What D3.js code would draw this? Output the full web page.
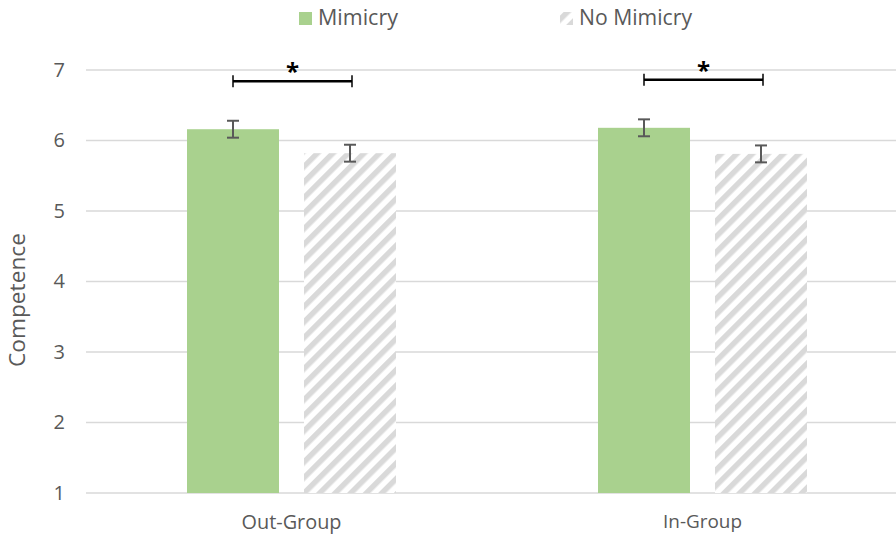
<!DOCTYPE html>
<html>
<head>
<meta charset="utf-8">
<script src="https://cdn.jsdelivr.net/npm/d3@7"></script>
<style>
  html, body { margin: 0; padding: 0; background: #fff; }
  svg { display: block; font-family: "Open Sans", sans-serif; }
</style>
</head>
<body>
<svg id="chart" width="896" height="539"></svg>
<script>
// Competence ratings by group and mimicry condition
const categories = ["Out-Group", "In-Group"];
const seriesNames = ["Mimicry", "No Mimicry"];
const mimicryMeans = [6.16, 6.18];
const noMimicryMeans = [5.82, 5.81];
const mimicryErrors = [0.12, 0.12];
const noMimicryErrors = [0.12, 0.12];
const yTicks = [1, 2, 3, 4, 5, 6, 7];
const significance = [
  { category: "Out-Group", y: 6.84, label: "*" },
  { category: "In-Group", y: 6.86, label: "*" }
];

const svg = d3.select("#chart");
const margin = { left: 86, right: -12, top: 70, bottom: 46 };
const W = 896, H = 539;
const textColor = "#595959";

const x = d3.scaleBand().domain(categories).range([margin.left, W - margin.right]).paddingInner(0).paddingOuter(0);
const y = d3.scaleLinear().domain([1, 7]).range([H - margin.bottom, margin.top]);

const barW = 92, gap = 25;
const offsets = [-(gap / 2 + barW), gap / 2];

// scale a text element's font size so its rendered width equals w
function fitWidth(sel, w) {
  sel.each(function () {
    const fs = parseFloat(this.getAttribute("font-size"));
    const cur = this.getComputedTextLength();
    if (cur > 0) this.setAttribute("font-size", (fs * w / cur).toFixed(2));
  });
}

// hatch pattern for the no-mimicry bars
const defs = svg.append("defs");
const pat = defs.append("pattern")
  .attr("id", "hatch")
  .attr("patternUnits", "userSpaceOnUse")
  .attr("width", 11).attr("height", 11)
  .attr("patternTransform", "rotate(45)");
pat.append("rect").attr("width", 11).attr("height", 11).attr("fill", "#fff");
pat.append("rect").attr("x", 0).attr("y", 0).attr("width", 5.5).attr("height", 11).attr("fill", "#d9d9d9");

// gridlines
svg.append("g").selectAll("line").data(yTicks).join("line")
  .attr("x1", margin.left).attr("x2", W)
  .attr("y1", d => y(d)).attr("y2", d => y(d))
  .attr("stroke", "#d9d9d9").attr("stroke-width", 1.3);

// y axis tick labels
const yAxis = d3.axisLeft(y).tickValues(yTicks).tickSize(0).tickPadding(0).tickFormat(d3.format("d"));
const yg = svg.append("g").attr("transform", `translate(${margin.left - 21},0)`).call(yAxis);
yg.select(".domain").remove();
yg.selectAll("text").attr("font-size", 20).attr("fill", textColor).attr("font-family", "'Open Sans', sans-serif");

// y axis title
const yTitle = svg.append("text")
  .attr("transform", `translate(25,300) rotate(-90)`)
  .attr("text-anchor", "middle")
  .attr("font-size", 19).attr("fill", textColor)
  .text("Competence");
fitWidth(yTitle, 134);

// x axis labels
const xAxis = d3.axisBottom(x).tickSize(0).tickPadding(0);
const xg = svg.append("g").attr("transform", `translate(0,${y(1) + 22})`).call(xAxis);
xg.select(".domain").remove();
xg.selectAll("text").attr("font-size", 19).attr("fill", textColor).attr("font-family", "'Open Sans', sans-serif");
fitWidth(xg.selectAll("text").filter(d => d === "Out-Group"), 100);
fitWidth(xg.selectAll("text").filter(d => d === "In-Group"), 79);

// bars
const rows = categories.map((c, i) => [
  { c, s: 0, v: mimicryMeans[i], e: mimicryErrors[i] },
  { c, s: 1, v: noMimicryMeans[i], e: noMimicryErrors[i] }
]).flat();
const cx = d => x(d.c) + x.bandwidth() / 2 + offsets[d.s] + barW / 2;

svg.append("g").selectAll("rect").data(rows).join("rect")
  .attr("x", d => cx(d) - barW / 2)
  .attr("width", barW)
  .attr("y", d => y(d.v))
  .attr("height", d => y(1) - y(d.v))
  .attr("fill", d => d.s === 0 ? "#a9d18e" : "url(#hatch)");

// error bars
const eb = svg.append("g").attr("stroke", "#595959").attr("stroke-width", 2).attr("fill", "none");
rows.forEach(d => {
  const g = eb.append("g");
  g.append("line").attr("x1", cx(d)).attr("x2", cx(d)).attr("y1", y(d.v + d.e)).attr("y2", y(d.v - d.e));
  g.append("line").attr("x1", cx(d) - 6).attr("x2", cx(d) + 6).attr("y1", y(d.v + d.e)).attr("y2", y(d.v + d.e));
  g.append("line").attr("x1", cx(d) - 6).attr("x2", cx(d) + 6).attr("y1", y(d.v - d.e)).attr("y2", y(d.v - d.e));
});

// significance brackets
const sg = svg.append("g");
significance.forEach(s => {
  const c = x(s.category) + x.bandwidth() / 2;
  const x1 = c + offsets[0] + barW / 2;
  const x2 = c + offsets[1] + barW / 2 + 2;
  const yy = y(s.y);
  const g = sg.append("g").attr("stroke", "#000");
  g.append("line").attr("x1", x1).attr("x2", x2).attr("y1", yy).attr("y2", yy).attr("stroke-width", 2.5);
  g.append("line").attr("x1", x1).attr("x2", x1).attr("y1", yy - 6).attr("y2", yy + 6).attr("stroke-width", 1.5);
  g.append("line").attr("x1", x2).attr("x2", x2).attr("y1", yy - 6).attr("y2", yy + 6).attr("stroke-width", 1.5);
  sg.append("text")
    .attr("x", (x1 + x2) / 2).attr("y", yy - 1)
    .attr("text-anchor", "middle")
    .attr("font-size", 24).attr("font-weight", "bold").attr("fill", "#000")
    .text(s.label);
});

// legend
const legendX = [299, 560];
const legendW = [80, 113];
const lg = svg.append("g");
seriesNames.forEach((name, i) => {
  lg.append("rect")
    .attr("x", legendX[i]).attr("y", 12).attr("width", 13).attr("height", 13)
    .attr("fill", i === 0 ? "#a9d18e" : "url(#hatch)");
  const t = lg.append("text")
    .attr("x", legendX[i] + 19).attr("y", 25)
    .attr("font-size", 19).attr("fill", textColor)
    .text(name);
  fitWidth(t, legendW[i]);
});
</script>
</body>
</html>
